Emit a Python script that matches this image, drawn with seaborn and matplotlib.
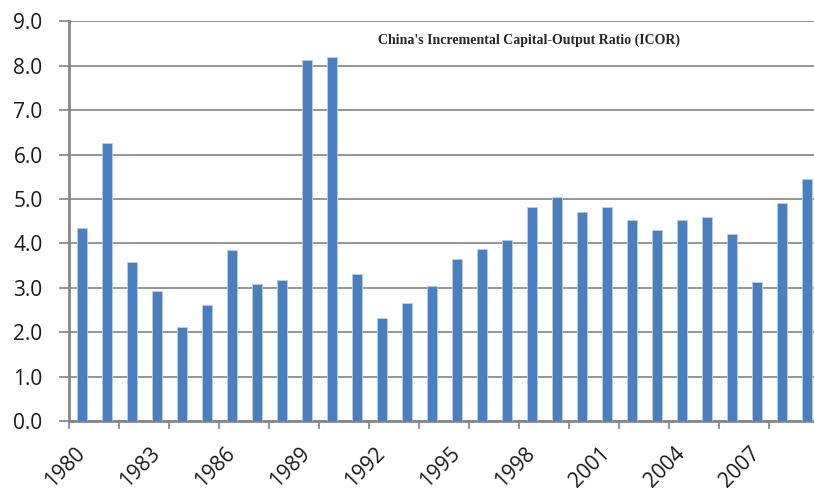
import pandas as pd
import matplotlib.pyplot as plt
import seaborn as sns

# China ICOR
years = list(range(1980, 2010))
icor = [4.34, 6.25, 3.57, 2.93, 2.12, 2.61, 3.86, 3.08, 3.17, 8.13,
        8.20, 3.32, 2.31, 2.66, 3.03, 3.65, 3.87, 4.07, 4.82, 5.05,
        4.70, 4.82, 4.52, 4.31, 4.52, 4.59, 4.22, 3.14, 4.91, 5.46]
y_ticks = [0, 1, 2, 3, 4, 5, 6, 7, 8, 9]
title = "China's Incremental Capital-Output Ratio (ICOR)"

sns.set_style("white")
plt.rcParams['font.family'] = ['Open Sans', 'DejaVu Sans']

df = pd.DataFrame({"year": [str(y) for y in years], "icor": icor})

fig = plt.figure(figsize=(8.14, 4.93), dpi=100)
ax = fig.add_axes([69 / 814, 72 / 493, 750 / 814, 399.7 / 493])

sns.barplot(data=df, x="year", y="icor", color="#4a7fbf", width=0.4,
            edgecolor="#b9cde5", linewidth=0.6, saturation=1, ax=ax, zorder=3)

ax.set_xlim(-0.5, 29.5)
ax.set_ylim(0, 9)
ax.set_yticks(y_ticks)
ax.set_yticklabels([f"{v:.1f}" for v in y_ticks], fontsize=15, color="#1a1a1a")
ax.yaxis.grid(True, color="#8c8c8c", linewidth=1.3, zorder=0)
ax.set_axisbelow(True)

# year labels every 3 years, tick marks every 2 categories
ax.set_xticks(range(0, 30, 3))
ax.set_xticklabels(years[::3], rotation=45, ha="right", va="center",
                   rotation_mode="anchor", fontsize=15, color="#1a1a1a")
ax.set_xticks([i - 0.5 for i in range(0, 31, 2)], minor=True)
ax.tick_params(axis="x", which="major", length=0, pad=21)
ax.tick_params(axis="x", which="minor", length=6, width=1.3, color="#8c8c8c",
               direction="out", bottom=True)
ax.tick_params(axis="y", length=7, width=1.3, color="#8c8c8c", direction="out",
               left=True, pad=12)

ax.set_xlabel("")
ax.set_ylabel("")
for side in ["top", "right"]:
    ax.spines[side].set_visible(False)
for side in ["left", "bottom"]:
    ax.spines[side].set_color("#868686")
    ax.spines[side].set_linewidth(2)

fig.text(529 / 814, 1 - 40 / 493, title, ha="center", va="center",
         fontsize=10, fontweight="bold", family="Liberation Serif")

fig.savefig("out.png", dpi=100)
